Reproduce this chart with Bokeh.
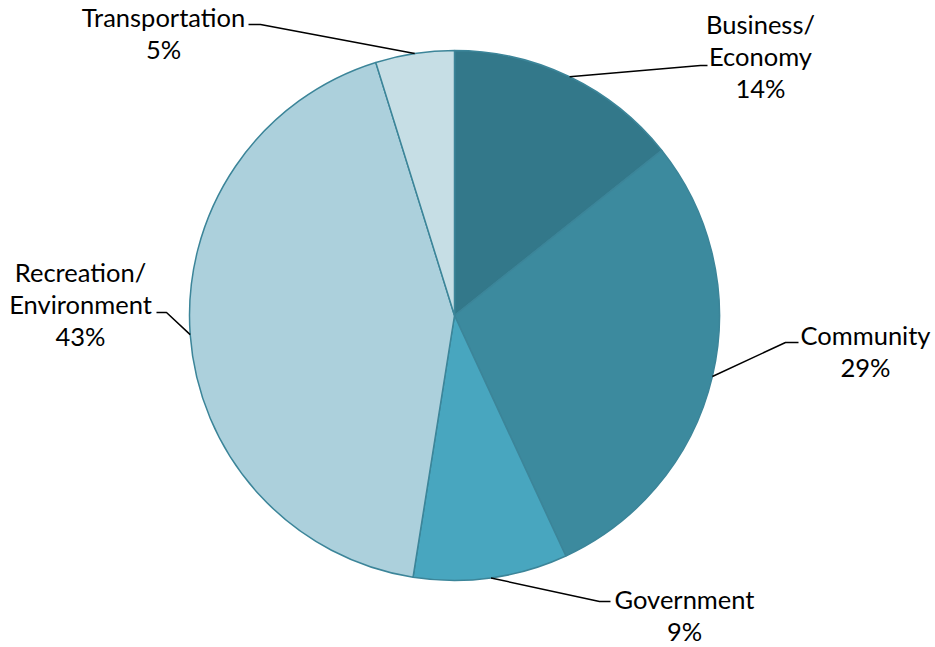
import math
from bokeh.plotting import figure
from bokeh.models import Range1d
from bokeh.core.properties import value
from bokeh.embed import file_html
from bokeh.resources import INLINE

# ---- data ----
categories = ["Business/\nEconomy", "Community", "Government", "Recreation/\nEnvironment", "Transportation"]
shares = [14.3, 28.8, 9.4, 42.7, 4.8]
colors = ["#33788A", "#3C8A9E", "#48A6BF", "#ACD0DC", "#C6DEE5"]

# ---- layout (screen px in the 935x647 page) ----
W, H = 935, 647
def dx(sx):
    return sx
def dy(sy):
    return H - sy

CX, CY, R = dx(454), dy(315), 265
# label anchor (center x, first baseline y) and leader elbow points, screen px
TEXT_SHIFT = -9
label_pos = [(760, 32), (865, 343), (684, 607), (80, 280), (163, 25)]
elbows = [[(700, 65), (707, 65)],
          [(785, 342), (798, 342)],
          [(599, 601), (610, 601)],
          [(166, 312), (156, 312)],
          [(260, 24), (248, 24)]]
LINE_GAP = 32
FONT = "Lato"
FSIZE = "25.5px"

p = figure(width=W, height=H, output_backend="svg", toolbar_location=None,
           x_range=Range1d(0, W), y_range=Range1d(0, H),
           min_border=0, min_border_left=0, min_border_right=0,
           min_border_top=0, min_border_bottom=0)
p.axis.visible = False
p.grid.visible = False
p.outline_line_color = None
p.background_fill_color = "white"
p.border_fill_color = "white"

total = sum(shares)
cum = 0.0
starts, ends, mids = [], [], []
for s in shares:
    a0 = math.pi / 2 - 2 * math.pi * cum / total
    cum += s
    a1 = math.pi / 2 - 2 * math.pi * cum / total
    starts.append(a0)
    ends.append(a1)
    mids.append((a0 + a1) / 2)

p.wedge(x=[CX] * len(shares), y=[CY] * len(shares), radius=R,
        start_angle=starts, end_angle=ends, direction="clock",
        fill_color=colors, line_color="#3C8599", line_width=1.5)

for i, cat in enumerate(categories):
    m = mids[i]
    ex, ey = CX + R * math.cos(m), CY + R * math.sin(m)
    xs = [ex] + [dx(a) for a, b in elbows[i]]
    ys = [ey] + [dy(b) for a, b in elbows[i]]
    p.line(xs, ys, line_color="black", line_width=1.5)
    pct = f"{round(shares[i] / total * 100)}%"
    lines = cat.split("\n") + [pct]
    lx, ly = label_pos[i]
    p.text(x=[dx(lx)] * len(lines),
           y=[dy(ly + TEXT_SHIFT + k * LINE_GAP) for k in range(len(lines))],
           text=lines, text_align="center", text_baseline="alphabetic",
           text_font=value(FONT), text_font_size=FSIZE, text_color="black")

open("out.html", "w").write(file_html(p, INLINE))
